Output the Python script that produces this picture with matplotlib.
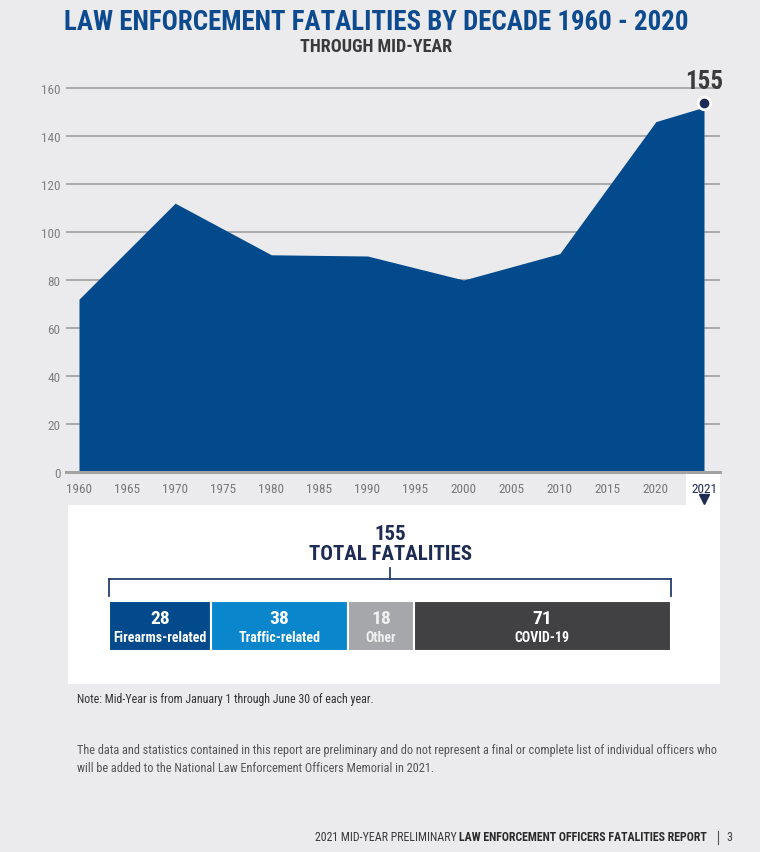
import matplotlib
matplotlib.use("Agg")
import matplotlib.pyplot as plt
from matplotlib import font_manager as fm
from matplotlib.patches import Rectangle
from matplotlib.lines import Line2D
from matplotlib.transforms import ScaledTranslation
import numpy as np

# ---------------- data ----------------
tick_years = ["1960", "1965", "1970", "1975", "1980", "1985", "1990", "1995",
              "2000", "2005", "2010", "2015", "2020", "2021"]
data_years = ["1960", "1970", "1980", "1990", "2000", "2010", "2020", "2021"]
fatalities = [72, 112, 90.5, 90, 80, 91, 146, 152]
y_ticks = [0, 20, 40, 60, 80, 100, 120, 140, 160]
total_label = "155"

seg_names = ["Firearms-related", "Traffic-related", "Other", "COVID-19"]
seg_values = [28, 38, 18, 71]
seg_colors = ["#024a8c", "#0a87cc", "#a5a7aa", "#414042"]
seg_text = ["white", "white", "#f0f0f0", "white"]

# ---------------- fonts ----------------
names = {f.name for f in fm.fontManager.ttflist}
FONT = next((n for n in ["Roboto Condensed", "Liberation Sans Narrow", "DejaVu Sans"]
             if n in names), "DejaVu Sans")
plt.rcParams["font.family"] = [FONT, "DejaVu Sans"]

W, H = 760, 853
BG = "#ebebed"
NAVY = "#1e2c55"
BLUE = "#024a8c"

fig = plt.figure(figsize=(W / 100, H / 100), dpi=100, facecolor=BG)


def fx(x):
    return x / W


def fy(y):
    return 1 - y / H


def axes_px(x0, y0, x1, y1, **kw):
    return fig.add_axes([fx(x0), fy(y1), (x1 - x0) / W, (y1 - y0) / H], **kw)


# white panels (behind everything)
fig.patches.append(Rectangle((fx(68), fy(685)), (720 - 68) / W, (685 - 506) / H,
                             transform=fig.transFigure, facecolor="white",
                             edgecolor="none", zorder=-5))
fig.patches.append(Rectangle((fx(686), fy(507)), (720 - 686) / W, (507 - 475) / H,
                             transform=fig.transFigure, facecolor="white",
                             edgecolor="none", zorder=-5))

# titles
fig.text(fx(376), fy(22), "LAW ENFORCEMENT FATALITIES BY DECADE 1960 - 2020",
         ha="center", va="center", fontsize=19.4, fontweight="bold", color="#0d4b8e")
fig.text(fx(376), fy(47), "THROUGH MID-YEAR", ha="center", va="center",
         fontsize=13, fontweight="bold", color="#3a3a3a")

# ---------------- area chart ----------------
ymax = 165
ax = axes_px(66, 473 - ymax * 2.4, 720, 473)
ax.set_facecolor("none")
xpos = [tick_years.index(y) for y in data_years]
ax.fill_between(xpos, fatalities, 0, color=BLUE, linewidth=0, zorder=2)
ax.set_ylim(0, ymax)
step = (704 - 79) / 13
ax.set_xlim(-(79 - 66) / step, (720 - 79) / step)
ax.set_yticks(y_ticks)
ax.set_yticklabels([str(v) for v in y_ticks])
ax.set_xticks(range(len(tick_years)))
ax.set_xticklabels(tick_years)
for lab in ax.get_xticklabels():
    lab.set_color("#777777")
ax.get_xticklabels()[-1].set_color(NAVY)
ax.tick_params(axis="both", length=0, labelsize=9.5)
ax.tick_params(axis="y", colors="#808080", pad=4)
ax.tick_params(axis="x", pad=7)
ax.grid(axis="y", color="#9a9a9a", linewidth=1.1, zorder=1)
ax.set_axisbelow(True)
for s in ["top", "right", "left"]:
    ax.spines[s].set_visible(False)
ax.spines["bottom"].set_color("#a3a3a3")
ax.spines["bottom"].set_linewidth(2.2)
ax.spines["bottom"].set_zorder(3)

# end dot + label
up = ScaledTranslation(0, 0.045, fig.dpi_scale_trans)
ax.plot([xpos[-1]], [fatalities[-1]], marker="o", markersize=9, markerfacecolor=NAVY,
        markeredgecolor="white", markeredgewidth=2, zorder=5, clip_on=False,
        transform=ax.transData + up)
ax.annotate(total_label, (xpos[-1], fatalities[-1]), xytext=(0, 10.5),
            textcoords="offset points", ha="center", va="bottom", fontsize=18,
            fontweight="bold", color="#3b3b3b", annotation_clip=False)
# triangle under 2021
down = ScaledTranslation(0, -0.27, fig.dpi_scale_trans)
ax.plot([xpos[-1]], [0], marker="v", markersize=7, color=NAVY, clip_on=False,
        transform=ax.transData + down, zorder=6)

# ---------------- total block ----------------
fig.text(fx(390), fy(534), total_label, ha="center", va="center", fontsize=15,
         fontweight="bold", color=NAVY)
fig.text(fx(390), fy(555), "TOTAL FATALITIES", ha="center", va="center",
         fontsize=15, fontweight="bold", color=NAVY)

bc = "#23406f"
for xs, ys in [([109, 671], [580, 580]), ([109, 109], [580, 597]),
               ([671, 671], [580, 597]), ([390, 390], [569, 580])]:
    fig.lines.append(Line2D([fx(v) for v in xs], [fy(v) for v in ys],
                            transform=fig.transFigure, color=bc, linewidth=1.3))

bax = axes_px(109, 602, 671, 652)
bax.set_facecolor("none")
left = np.concatenate([[0], np.cumsum(seg_values)[:-1]])
bax.barh([0] * len(seg_values), seg_values, left=left, height=1.0,
         color=seg_colors, edgecolor="white", linewidth=1.5)
bax.set_xlim(0, sum(seg_values))
bax.set_ylim(-0.5, 0.5)
bax.axis("off")
for v, l, name, tc in zip(seg_values, left, seg_names, seg_text):
    cx = l + v / 2
    bax.text(cx, 0.15, str(v), ha="center", va="center", fontsize=14,
             fontweight="bold", color=tc)
    bax.text(cx, -0.22, name, ha="center", va="center", fontsize=10,
             fontweight="bold", color=tc)

# ---------------- notes ----------------
fig.text(fx(77), fy(700), "Note: Mid-Year is from January 1 through June 30 of each year.",
         ha="left", va="center", fontsize=8.6, color="#333333")
fig.text(fx(77), fy(751),
         "The data and statistics contained in this report are preliminary and do not represent a final or complete list of individual officers who",
         ha="left", va="center", fontsize=8.85, color="#555555")
fig.text(fx(77), fy(769),
         "will be added to the National Law Enforcement Officers Memorial in 2021.",
         ha="left", va="center", fontsize=8.85, color="#555555")

# footer
fig.text(fx(729), fy(838), "3", ha="center", va="center", fontsize=8.6, color="#3a3a3a")
fig.lines.append(Line2D([fx(718), fx(718)], [fy(832), fy(845)],
                        transform=fig.transFigure, color="#555555", linewidth=0.8))
bold = fig.text(fx(707), fy(838), "LAW ENFORCEMENT OFFICERS FATALITIES REPORT",
                ha="right", va="center", fontsize=8.6, fontweight="bold", color="#2a2a2a")
fig.canvas.draw()
bb = bold.get_window_extent(renderer=fig.canvas.get_renderer())
fig.text(bb.x0 / W - 3 / W, fy(838), "2021 MID-YEAR PRELIMINARY", ha="right",
         va="center", fontsize=8.6, color="#3a3a3a")

fig.savefig("out.png", dpi=100, facecolor=BG)
